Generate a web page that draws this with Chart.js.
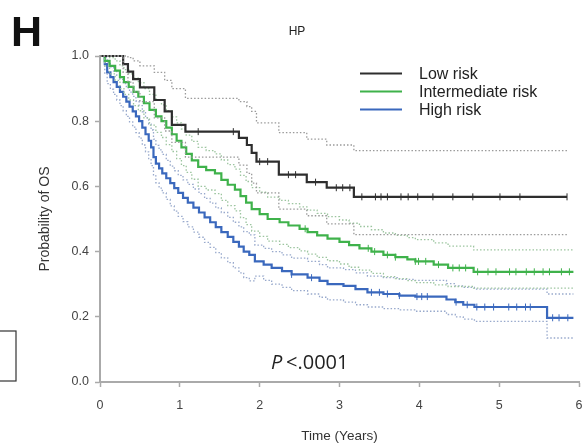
<!DOCTYPE html>
<html>
<head>
<meta charset="utf-8">
<script src="https://cdn.jsdelivr.net/npm/chart.js@4.4.1/dist/chart.umd.min.js"></script>
<style>
  html, body { margin: 0; padding: 0; background: #fff; }
  #wrap { width: 586px; height: 447px; position: relative; }
</style>
</head>
<body>
<div id="wrap"><canvas id="kmChart"></canvas></div>
<script>
const groupNames = ["Low risk", "Intermediate risk", "High risk"];
const xTicks = [0, 1, 2, 3, 4, 5, 6];
const yTicks = [0, 0.2, 0.4, 0.6, 0.8, 1.0];

// low risk
const lowTimes = [0, 0.29, 0.35, 0.415, 0.50, 0.68, 0.81, 0.90, 1.07, 1.74, 1.84, 1.90, 1.96, 2.24, 2.59, 2.84, 3.18];
const lowSurv  = [1.0, 0.975, 0.952, 0.929, 0.904, 0.865, 0.83, 0.789, 0.768, 0.749, 0.727, 0.703, 0.676, 0.636, 0.613, 0.596, 0.568];
const lowUpper = [1.0, 1.0, 0.995, 0.985, 0.97, 0.95, 0.925, 0.90, 0.87, 0.86, 0.845, 0.83, 0.795, 0.765, 0.745, 0.727, 0.71];
const lowLower = [1.0, 0.95, 0.92, 0.89, 0.86, 0.81, 0.77, 0.735, 0.69, 0.665, 0.64, 0.61, 0.58, 0.53, 0.51, 0.485, 0.452];
const lowEnd = 5.85;
const lowCensor = [1.23, 1.67, 2.0, 2.1, 2.36, 2.45, 2.7, 2.96, 3.04, 3.13, 3.28, 3.45, 3.52, 3.6, 3.77, 3.86, 3.98, 4.17, 4.42, 4.67, 5.01, 5.26, 5.85];

// intermediate risk
const midTimes = [0, 0.06, 0.12, 0.19, 0.25, 0.3, 0.36, 0.42, 0.48, 0.55, 0.62, 0.7, 0.77, 0.83, 0.9, 0.96, 1.02, 1.08, 1.15, 1.23, 1.33, 1.44, 1.52, 1.6, 1.69, 1.76, 1.83, 1.9, 2.0, 2.1, 2.25, 2.36, 2.5, 2.6, 2.72, 2.85, 3.0, 3.12, 3.25, 3.4, 3.55, 3.7, 3.85, 3.95, 4.18, 4.36, 4.68];
const midSurv  = [1.0, 0.985, 0.97, 0.955, 0.935, 0.92, 0.905, 0.89, 0.875, 0.855, 0.835, 0.815, 0.8, 0.78, 0.76, 0.74, 0.72, 0.70, 0.68, 0.66, 0.65, 0.64, 0.62, 0.605, 0.59, 0.57, 0.55, 0.53, 0.515, 0.5, 0.49, 0.48, 0.47, 0.46, 0.45, 0.44, 0.43, 0.42, 0.41, 0.40, 0.39, 0.383, 0.376, 0.37, 0.36, 0.35, 0.338];
const midUpper = [1.0, 1.0, 0.995, 0.985, 0.97, 0.958, 0.945, 0.932, 0.918, 0.90, 0.882, 0.864, 0.85, 0.832, 0.813, 0.795, 0.776, 0.757, 0.738, 0.72, 0.71, 0.70, 0.681, 0.667, 0.653, 0.634, 0.615, 0.596, 0.582, 0.567, 0.557, 0.547, 0.537, 0.527, 0.517, 0.507, 0.497, 0.487, 0.477, 0.467, 0.457, 0.45, 0.443, 0.437, 0.427, 0.417, 0.405];
const midLower = [1.0, 0.97, 0.945, 0.925, 0.9, 0.882, 0.865, 0.848, 0.832, 0.81, 0.788, 0.766, 0.75, 0.728, 0.707, 0.685, 0.664, 0.643, 0.622, 0.6, 0.589, 0.578, 0.557, 0.541, 0.525, 0.504, 0.483, 0.463, 0.447, 0.432, 0.422, 0.412, 0.402, 0.392, 0.382, 0.372, 0.362, 0.352, 0.343, 0.333, 0.323, 0.317, 0.311, 0.305, 0.298, 0.293, 0.288];
const midEnd = 5.93;
const midCensor = [2.57, 3.36, 3.44, 3.6, 3.7, 3.95, 3.99, 4.08, 4.24, 4.42, 4.5, 4.58, 4.73, 4.86, 4.96, 5.13, 5.21, 5.34, 5.44, 5.55, 5.63, 5.78, 5.88];

// high risk
const highTimes = [0, 0.06, 0.09, 0.13, 0.17, 0.21, 0.25, 0.29, 0.33, 0.37, 0.41, 0.45, 0.49, 0.53, 0.57, 0.61, 0.64, 0.67, 0.7, 0.74, 0.78, 0.83, 0.88, 0.93, 0.98, 1.04, 1.1, 1.17, 1.24, 1.31, 1.38, 1.45, 1.52, 1.6, 1.67, 1.74, 1.8, 1.87, 1.94, 2.05, 2.15, 2.28, 2.4, 2.6, 2.75, 2.85, 3.05, 3.2, 3.35, 3.55, 3.75, 3.95, 4.34, 4.45, 4.55, 4.69, 5.6];
const highSurv  = [1.0, 0.975, 0.95, 0.935, 0.92, 0.905, 0.89, 0.875, 0.86, 0.845, 0.83, 0.815, 0.80, 0.78, 0.76, 0.74, 0.72, 0.69, 0.67, 0.655, 0.64, 0.625, 0.61, 0.595, 0.58, 0.565, 0.55, 0.535, 0.52, 0.505, 0.49, 0.475, 0.46, 0.445, 0.43, 0.415, 0.40, 0.39, 0.37, 0.36, 0.35, 0.34, 0.33, 0.32, 0.31, 0.30, 0.295, 0.285, 0.275, 0.27, 0.265, 0.262, 0.253, 0.245, 0.237, 0.23, 0.197];
const highUpper = [1.0, 0.995, 0.98, 0.967, 0.954, 0.941, 0.928, 0.915, 0.902, 0.889, 0.876, 0.862, 0.848, 0.829, 0.81, 0.791, 0.773, 0.745, 0.726, 0.712, 0.698, 0.68, 0.662, 0.648, 0.634, 0.62, 0.606, 0.592, 0.578, 0.563, 0.549, 0.534, 0.52, 0.505, 0.49, 0.476, 0.461, 0.451, 0.42, 0.41, 0.40, 0.39, 0.38, 0.37, 0.36, 0.35, 0.345, 0.335, 0.325, 0.32, 0.315, 0.312, 0.302, 0.295, 0.29, 0.285, 0.27];
const highLower = [1.0, 0.945, 0.915, 0.898, 0.882, 0.865, 0.848, 0.832, 0.815, 0.798, 0.782, 0.765, 0.748, 0.727, 0.706, 0.685, 0.664, 0.632, 0.611, 0.595, 0.58, 0.56, 0.54, 0.524, 0.508, 0.492, 0.476, 0.46, 0.444, 0.428, 0.413, 0.397, 0.381, 0.366, 0.35, 0.335, 0.32, 0.31, 0.325, 0.312, 0.3, 0.29, 0.28, 0.27, 0.26, 0.252, 0.245, 0.237, 0.23, 0.225, 0.221, 0.217, 0.207, 0.2, 0.193, 0.186, 0.135];
const highEnd = 5.93;
const highCensor = [2.4, 2.65, 3.4, 3.5, 3.6, 3.75, 3.97, 4.03, 4.1, 4.46, 4.6, 4.72, 4.82, 4.93, 5.12, 5.22, 5.33, 5.39, 5.67, 5.75, 5.86];

const lineColors = ["#2e2e2e", "#3fb24b", "#3a68bd"];
const ciColors = ["#9a9a9a", "#9cc59f", "#98a9cc"];
const fontFamily = "'Liberation Sans', Arial, sans-serif";

function stepPoints(times, values, end) {
  const pts = times.map((t, i) => ({ x: t, y: values[i] }));
  pts.push({ x: end, y: values[values.length - 1] });
  return pts;
}

function survivalAt(times, values, t) {
  let v = values[0];
  for (let i = 0; i < times.length; i++) {
    if (times[i] <= t) v = values[i];
  }
  return v;
}

function groupDatasets(idx, times, surv, upper, lower, end, censor) {
  const ci = {
    borderColor: ciColors[idx],
    borderWidth: 1.3,
    borderDash: [1.5, 2],
    pointRadius: 0,
    stepped: true,
    fill: false,
    clip: 6
  };
  return [
    Object.assign({ data: stepPoints(times, upper, end) }, ci),
    Object.assign({ data: stepPoints(times, lower, end) }, ci),
    {
      label: groupNames[idx],
      data: stepPoints(times, surv, end),
      borderColor: lineColors[idx],
      borderWidth: 2.2,
      pointRadius: 0,
      stepped: true,
      fill: false,
      clip: 6
    },
    {
      data: censor.map(t => ({ x: t, y: survivalAt(times, surv, t) })),
      showLine: false,
      pointStyle: "line",
      rotation: 90,
      pointRadius: 3.5,
      borderColor: lineColors[idx],
      borderWidth: 1,
      clip: 6
    }
  ];
}

const textPlugin = {
  id: "extraText",
  afterDraw(chart) {
    const ctx = chart.ctx;
    ctx.save();

    ctx.fillStyle = "#111";
    ctx.font = "bold 43px " + fontFamily;
    ctx.textAlign = "left";
    ctx.textBaseline = "alphabetic";
    ctx.fillText("H", 11, 46);

    ctx.fillStyle = "#222";
    ctx.font = "12px " + fontFamily;
    ctx.textAlign = "center";
    ctx.fillText("HP", 297, 35);

    ctx.textAlign = "left";
    ctx.font = "italic 20px 'Open Sans', sans-serif";
    ctx.fillText("P", 271, 369);
    ctx.font = "20px 'Open Sans', sans-serif";
    ctx.fillText("<.0001", 286, 369);

    // legend
    const ly = [73.5, 91.5, 109.5];
    ctx.font = "16px " + fontFamily;
    ctx.textBaseline = "middle";
    groupNames.forEach((name, i) => {
      ctx.strokeStyle = lineColors[i];
      ctx.lineWidth = 2;
      ctx.beginPath();
      ctx.moveTo(360, ly[i]);
      ctx.lineTo(402, ly[i]);
      ctx.stroke();
      ctx.fillStyle = "#222";
      ctx.fillText(name, 419, ly[i] + 1.5);
    });

    // stray box at left edge
    ctx.strokeStyle = "#333";
    ctx.lineWidth = 1.2;
    ctx.strokeRect(-2, 331, 18, 50);

    ctx.restore();
  }
};

new Chart(document.getElementById("kmChart"), {
  type: "line",
  data: {
    datasets: [
      ...groupDatasets(0, lowTimes, lowSurv, lowUpper, lowLower, lowEnd, lowCensor),
      ...groupDatasets(1, midTimes, midSurv, midUpper, midLower, midEnd, midCensor),
      ...groupDatasets(2, highTimes, highSurv, highUpper, highLower, highEnd, highCensor)
    ]
  },
  options: {
    responsive: true,
    maintainAspectRatio: false,
    animation: false,
    layout: { padding: { left: 0, top: 56, right: 7, bottom: 0 } },
    plugins: {
      legend: { display: false },
      tooltip: { enabled: false }
    },
    scales: {
      x: {
        type: "linear",
        min: 0,
        max: 6,
        afterFit: s => { s.height = 65; s.paddingLeft = 0; s.paddingRight = 0; },
        afterBuildTicks: s => { s.ticks = xTicks.map(v => ({ value: v })); },
        ticks: {
          padding: 11,
          color: "#444",
          font: { family: fontFamily, size: 12.5 }
        },
        grid: { drawOnChartArea: false, color: "#aaa", tickLength: 5, tickWidth: 1.5 },
        border: { color: "#aaa", width: 2 },
        title: {
          display: true,
          text: "Time (Years)",
          color: "#333",
          padding: { top: 0, bottom: 3 },
          font: { family: fontFamily, size: 13.5 }
        }
      },
      y: {
        min: 0,
        max: 1,
        afterFit: s => { s.width = 100; s.paddingTop = 0; s.paddingBottom = 0; },
        afterBuildTicks: s => { s.ticks = yTicks.map(v => ({ value: v })); },
        ticks: {
          padding: 6,
          color: "#444",
          font: { family: fontFamily, size: 12.5 },
          callback: v => v.toFixed(1)
        },
        grid: { drawOnChartArea: false, color: "#aaa", tickLength: 5, tickWidth: 1.5 },
        border: { color: "#aaa", width: 2 },
        title: {
          display: true,
          text: "Probability of OS",
          color: "#333",
          padding: { top: 37, bottom: 0 },
          font: { family: fontFamily, size: 14 }
        }
      }
    }
  },
  plugins: [textPlugin]
});
</script>
</body>
</html>
